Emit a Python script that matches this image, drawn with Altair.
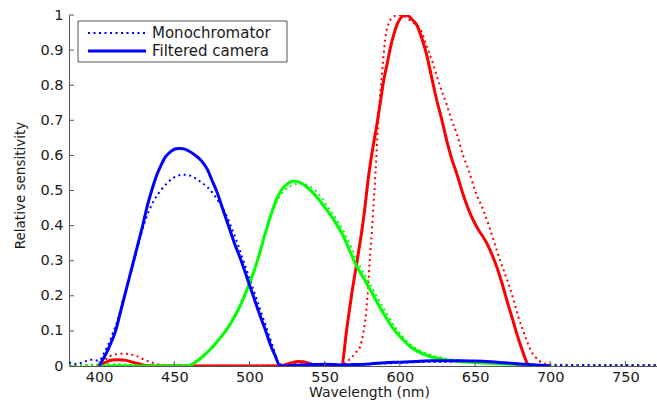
import altair as alt
import pandas as pd

# Relative spectral sensitivity of the three colour channels (wavelength in nm).
# "mono" = monochromator measurement (dotted), "cam" = filtered camera (solid).
red_mono_wl = [380, 390, 400, 403, 406, 410, 415, 420, 425, 430, 435, 440, 445, 460, 500, 525, 530, 535, 545,
               558, 561, 563.7, 566, 568, 571, 573.6, 575.5, 577, 578.5, 580.3, 581.5, 582.5, 583.8, 585, 586.7,
               588.5, 590.2, 592.5, 595.7, 599, 602, 605, 609, 613.5, 618, 622.3, 626.5, 631.2, 634.5, 638, 642,
               645.6, 650, 655.5, 660, 664.4, 668, 672.1, 675.5, 678.8, 682, 684.3, 687, 689.8, 692.5, 695.4, 700,
               720, 740, 760, 780]
red_mono_val = [0.001, 0.002, 0.003, 0.012, 0.025, 0.032, 0.035, 0.034, 0.028, 0.018, 0.01, 0.004, 0.002, 0.001,
                0.001, 0.003, 0.006, 0.004, 0.002, 0.002, 0.004, 0.01, 0.017, 0.025, 0.04, 0.055, 0.09, 0.13, 0.20,
                0.32, 0.39, 0.46, 0.55, 0.65, 0.76, 0.85, 0.93, 0.975, 0.995, 1.0, 0.998, 0.99, 0.978, 0.96, 0.91,
                0.858, 0.80, 0.744, 0.70, 0.66, 0.60, 0.56, 0.50, 0.444, 0.39, 0.33, 0.285, 0.236, 0.19, 0.14, 0.10,
                0.074, 0.045, 0.027, 0.015, 0.008, 0.004, 0.003, 0.003, 0.003, 0.003]

green_mono_wl = [380, 390, 400, 410, 420, 430, 440, 450, 458, 462, 466, 470, 474, 478, 482, 486, 490, 494, 498,
                 502, 505.5, 508.5, 511.5, 514.5, 517.5, 520.5, 524, 528, 533, 538, 543, 548, 553.5, 559, 564.5,
                 569, 573.5, 578, 582.3, 587, 591, 597, 602, 609, 615.5, 622, 632, 642, 652, 662, 672, 682, 692,
                 700, 720, 740, 760, 780]
green_mono_val = [0.002, 0.003, 0.004, 0.005, 0.004, 0.003, 0.002, 0.001, 0.002, 0.008, 0.019, 0.033, 0.05, 0.069,
                  0.09, 0.114, 0.143, 0.177, 0.216, 0.26, 0.30, 0.345, 0.39, 0.43, 0.462, 0.485, 0.503, 0.514, 0.52,
                  0.516, 0.503, 0.48, 0.444, 0.41, 0.368, 0.325, 0.283, 0.25, 0.217, 0.18, 0.150, 0.11, 0.083, 0.055,
                  0.04, 0.03, 0.02, 0.015, 0.012, 0.009, 0.007, 0.005, 0.003, 0.002, 0.002, 0.002, 0.002, 0.002]

blue_mono_wl = [380, 385, 390, 395, 400, 403, 406, 409.7, 413, 416, 419.5, 422.7, 426, 429.6, 433, 437, 441, 445,
                449, 453, 456, 460, 464, 468, 472, 476, 480, 483.5, 487.5, 492, 496, 500, 504, 508, 512, 516, 520,
                530, 540, 550, 560, 570, 580, 590, 600, 610, 620, 630, 640, 650, 660, 670, 680, 690, 700, 720, 740,
                760, 780]
blue_mono_val = [0.01, 0.006, 0.012, 0.018, 0.015, 0.035, 0.06, 0.10, 0.14, 0.19, 0.24, 0.29, 0.345, 0.40, 0.44,
                 0.475, 0.50, 0.52, 0.535, 0.543, 0.545, 0.543, 0.535, 0.523, 0.51, 0.49, 0.465, 0.44, 0.40, 0.35,
                 0.30, 0.25, 0.20, 0.15, 0.10, 0.05, 0.005, 0.003, 0.004, 0.006, 0.004, 0.004, 0.005, 0.007, 0.009,
                 0.011, 0.012, 0.012, 0.012, 0.011, 0.01, 0.008, 0.006, 0.004, 0.002, 0.002, 0.002, 0.002, 0.002]

red_cam_wl = [400, 405, 409, 413, 418, 423, 427, 432, 440, 480, 520, 524, 528, 532, 536, 540, 544, 550, 558, 561,
              565, 568, 571.4, 575.8, 579.5, 582, 584.7, 587, 589.1, 591.5, 593.6, 596, 598,
              600, 601.5, 603.5, 605.5, 607.5, 609.5, 611.3, 614.5, 617.9, 621, 624.4, 628, 631.2, 634.5, 637.7,
              642, 646.7, 652, 657.8, 661, 664.4, 668, 671.1, 674.5, 677.7, 681, 684.7, 686, 690, 700]
red_cam_val = [0.0, 0.012, 0.017, 0.018, 0.016, 0.01, 0.006, 0.001, 0, 0, 0, 0.004, 0.009, 0.013, 0.012, 0.007,
               0.002, 0, 0, 0.0, 0.115, 0.205, 0.295, 0.418, 0.55, 0.62, 0.687, 0.75, 0.81, 0.86,
               0.905, 0.945, 0.971, 0.988, 0.996, 1.0, 0.998, 0.99, 0.981, 0.971, 0.935, 0.886, 0.825, 0.76, 0.70,
               0.642, 0.59, 0.55, 0.49, 0.435, 0.39, 0.350, 0.32, 0.283, 0.235, 0.188, 0.14, 0.093, 0.05, 0.008, 0,
               0, 0]

green_cam_wl = [400, 420, 440, 455, 459.6, 463, 467, 471, 475, 479, 483, 487, 491, 495, 499, 503, 506, 509, 512,
                515, 518, 521, 525, 529.4, 535, 540.4, 546, 551.5, 557, 562.6, 567, 571.4, 576, 580.3, 585, 589.1,
                595, 600.2, 607, 613.5, 620, 630, 640, 650, 660, 670, 680, 690, 700]
green_cam_val = [0, 0, 0, 0, 0.0, 0.008, 0.02, 0.035, 0.052, 0.072, 0.093, 0.118, 0.148, 0.183, 0.225, 0.27, 0.31,
                 0.355, 0.40, 0.44, 0.475, 0.50, 0.518, 0.527, 0.52, 0.501, 0.475, 0.444, 0.41, 0.368, 0.325, 0.283,
                 0.25, 0.217, 0.18, 0.150, 0.11, 0.083, 0.055, 0.038, 0.027, 0.018, 0.013, 0.010, 0.008, 0.006, 0.004,
                 0.002, 0.001]

blue_cam_wl = [400, 403, 406, 408.5, 411, 414, 417, 420, 423, 426, 429, 432, 435, 438, 441, 444, 448, 451, 453.5,
               456, 460, 464, 468, 472, 475, 478, 482, 486, 490, 494.5, 498.5, 502.5, 506.5, 510.8, 514, 517, 520.5,
               525, 530, 540, 550, 560, 570, 580, 590, 600, 610, 620, 630, 640, 650, 660, 670, 680, 690, 700]
blue_cam_val = [0.0, 0.022, 0.047, 0.072, 0.10, 0.15, 0.20, 0.25, 0.30, 0.35, 0.40, 0.455, 0.50, 0.54, 0.57, 0.595,
                0.612, 0.619, 0.62, 0.619, 0.612, 0.60, 0.585, 0.56, 0.53, 0.50, 0.45, 0.40, 0.35, 0.30, 0.25, 0.20,
                0.15, 0.10, 0.06, 0.03, 0.0, 0.0, 0.002, 0.004, 0.005, 0.003, 0.004, 0.006, 0.009, 0.011, 0.013,
                0.015, 0.015, 0.015, 0.014, 0.012, 0.009, 0.006, 0.003, 0.001]

x_ticks = [400, 450, 500, 550, 600, 650, 700, 750]
y_ticks = [0, 0.1, 0.2, 0.3, 0.4, 0.5, 0.6, 0.7, 0.8, 0.9, 1]
legend_labels = ["Monochromator", "Filtered camera"]

FONT = "DejaVu Sans"
AXIS_GRAY = "#555555"
TEXT = "#1a1a1a"
W, H = 588, 351

x_scale = alt.Scale(domain=[380, 771], nice=False, zero=False)
y_scale = alt.Scale(domain=[0, 1], nice=False, zero=False)

# Axes (tick marks are drawn separately, pointing inward)
x_axis = alt.Axis(values=x_ticks, format="d", ticks=False, grid=False, domain=True,
                  domainColor=AXIS_GRAY, domainWidth=1,
                  labelFont=FONT, labelFontSize=14.5, labelColor=TEXT, labelPadding=4,
                  title="Wavelength (nm)", titleFont=FONT, titleFontSize=14,
                  titleFontWeight="normal", titleColor=TEXT, titleX=300, titleY=30,
                  titleAlign="center", titleBaseline="alphabetic")
y_axis = alt.Axis(values=y_ticks, format=".1~f", ticks=False, grid=False, domain=True,
                  domainColor=AXIS_GRAY, domainWidth=1,
                  labelFont=FONT, labelFontSize=14.5, labelColor=TEXT, labelPadding=6,
                  title="Relative sensitivity", titleFont=FONT, titleFontSize=13.5,
                  titleFontWeight="normal", titleColor=TEXT, titleX=-45, titleY=170,
                  titleAngle=270, titleAlign="center", titleBaseline="alphabetic")

DOT = [2, 3.5]


def curve(wl, val, color, dotted):
    style = dict(color=color, interpolate="monotone", clip=True,
                 strokeWidth=2 if dotted else 3, strokeCap="butt")
    if dotted:
        style["strokeDash"] = DOT
    df = pd.DataFrame({"wl": wl, "val": val})
    return alt.Chart(df).mark_line(**style).encode(
        x=alt.X("wl:Q", scale=x_scale, axis=x_axis),
        y=alt.Y("val:Q", scale=y_scale, axis=y_axis),
    )


layers = [
    curve(red_mono_wl, red_mono_val, "#ff0000", True),
    curve(green_mono_wl, green_mono_val, "#00ff00", True),
    curve(blue_mono_wl, blue_mono_val, "#0000ff", True),
    curve(red_cam_wl, red_cam_val, "#ff0000", False),
    curve(green_cam_wl, green_cam_val, "#00ff00", False),
    curve(blue_cam_wl, blue_cam_val, "#0000ff", False),
]

x_tick_marks = alt.Chart(pd.DataFrame({"wl": x_ticks})).mark_rule(color=AXIS_GRAY, strokeWidth=1).encode(
    x=alt.X("wl:Q", scale=x_scale, axis=x_axis),
    y=alt.value(H), y2=alt.value(H - 5),
)
y_tick_marks = alt.Chart(pd.DataFrame({"val": y_ticks})).mark_rule(color=AXIS_GRAY, strokeWidth=1).encode(
    y=alt.Y("val:Q", scale=y_scale, axis=y_axis),
    x=alt.value(0), x2=alt.value(5),
)
layers += [x_tick_marks, y_tick_marks]

# Legend box in the upper-left corner
leg_df = pd.DataFrame({"label": legend_labels})
legend_box = alt.Chart(pd.DataFrame({"k": [0]})).mark_rect(
    fill="white", stroke=AXIS_GRAY, strokeWidth=1
).encode(x=alt.value(9), x2=alt.value(218), y=alt.value(6), y2=alt.value(47))
leg_dotted = alt.Chart(pd.DataFrame({"k": [0]})).mark_rule(
    color="#0000ff", strokeWidth=2, strokeDash=DOT, strokeCap="butt"
).encode(x=alt.value(19), x2=alt.value(77), y=alt.value(18))
leg_solid = alt.Chart(pd.DataFrame({"k": [0]})).mark_rule(
    color="#0000ff", strokeWidth=3, strokeCap="butt"
).encode(x=alt.value(19), x2=alt.value(77), y=alt.value(36))
leg_text1 = alt.Chart(leg_df.iloc[[0]]).mark_text(
    align="left", baseline="middle", font=FONT, fontSize=15, color=TEXT
).encode(x=alt.value(83), y=alt.value(18), text="label:N")
leg_text2 = alt.Chart(leg_df.iloc[[1]]).mark_text(
    align="left", baseline="middle", font=FONT, fontSize=15, color=TEXT
).encode(x=alt.value(83), y=alt.value(36), text="label:N")
layers += [legend_box, leg_dotted, leg_solid, leg_text1, leg_text2]

chart = alt.layer(*layers).properties(
    width=W, height=H,
    padding={"left": 69, "top": 15, "right": 0, "bottom": 38},
    autosize=alt.AutoSizeParams(type="none"),
    background="white",
).configure_view(stroke=None)

chart.save("out.html", embed_options={"renderer": "svg", "actions": False})
